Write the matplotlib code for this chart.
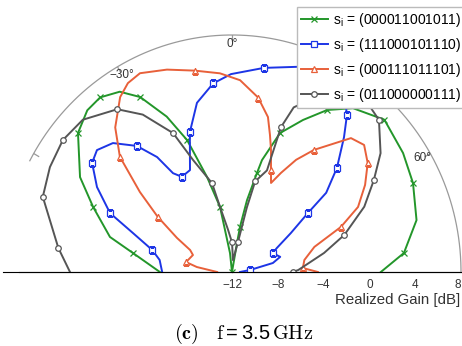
import numpy as np
import matplotlib.pyplot as plt
from matplotlib.transforms import offset_copy

plt.rcParams['font.family'] = ['Liberation Sans', 'DejaVu Sans']
plt.rcParams['mathtext.fontset'] = 'custom'
plt.rcParams['mathtext.rm'] = 'Liberation Sans'
plt.rcParams['mathtext.default'] = 'regular'
plt.rcParams['lines.solid_joinstyle'] = 'round'

# realized gain patterns at f = 3.5 GHz
# angle in degrees (0 = broadside, clockwise positive), gain in dB
ang_green = [-90, -79.5, -74.5, -65.7, -58.9, -48.9, -42.8, -38.0, -32.8, -28.5, -23.5, -19.4,
             -15.2, -10.8, -6.2, 2, 10.1, 10.4, 12.2, 14.6, 15.5, 19.7, 25.8, 31.3, 37.4, 46,
             56.1, 64.6, 74.8, 83.9, 90]
gain_green = [-5.7, -3.2, -0.94, 1.3, 3.5, 5.85, 6.6, 6.7, 6.1, 4.8, 2.3, -0.2,
              -3.7, -6.4, -10.4, -12, -9.5, -8.1, -5.8, -3.4, -2.2, 0.46, 2.25, 4.0, 5.4, 6.5,
              6.0, 5.5, 4.7, 3.1, 1.0]

ang_blue = [-90, -80.9, -75.1, -69.2, -65.0, -58.7, -53.0, -48.9, -43.7, -38.0, -34.0, -31.7,
            -28.6, -23.1, -20.1, -17.3, -12.1, -5.9, -0.3, 9.2, 18.4, 24.3, 30.4, 35.6, 37.2,
            40.7, 46.2, 50.9, 53.1, 57.4, 62.7, 65.9, 73.1, 78.0, 83.8, 90]
gain_blue = [-5.9, -5.6, -4.8, -2.75, -0.25, 1.8, 3.3, 3.65, 3.05, 1.5, -0.3, -2.2,
             -2.85, -2.65, -1.3, 0.37, 2.6, 4.0, 4.7, 5.45, 6.25, 6.7, 6.3, 5.1, 4.6,
             3.0, 0.7, -1.4, -3.7, -5.9, -7.6, -8.1, -7.6, -8.35, -10.4, -11.3]

ang_red = [-90, -82.2, -78.2, -67.2, -63.1, -59.1, -54.3, -50.0, -45.2, -39.9, -33.5, -29.7,
           -25.6, -18.4, -10.8, -3.6, 2.5, 8.8, 13.5, 16.0, 18.3, 21.6, 24.4, 27.1, 30.6, 34.8,
           42.6, 47.1, 52.2, 57.7, 63.5, 68.2, 73.6, 80.9, 86.9, 90]
gain_red = [-10.7, -8.9, -7.9, -8.3, -7.9, -6.4, -4.0, -1.5, 1.8, 3.9, 5.7, 6.35,
            6.6, 6.0, 5.3, 4.8, 4.2, 2.9, 1.45, 0.03, -1.15, -2.75, -3.75, -2.6, -1.0, 0.55,
            3.35, 3.75, 3.0, 1.75, 0.3, -1.75, -4.5, -5.6, -5.8, -4.5]

ang_gray = [-90, -82.4, -69.0, -60.9, -53.0, -45.4, -36.1, -30.4, -23.7, -19.8, -13.1, -10.8,
            -5.6, 0, 5, 11.7, 13.4, 14.8, 19.6, 19.3, 21.2, 29, 35, 41.3, 45.0, 52.3, 58.0,
            64.5, 72.3, 78.7, 88.3, 90]
gain_gray = [2.15, 3.3, 5.7, 6.2, 6.5, 6.3, 5.0, 3.4, 0.8, -1.95, -4.3, -6.4,
             -8.4, -9.5, -11, -9.4, -6.4, -4.1, -2.9, 0.96, 2.9, 5.5, 6.4, 6.4, 6.15, 4.4, 2.6,
             0.8, -1.7, -3.8, -6.2, -6.7]

codes = ['000011001011', '111000101110', '000111011101', '011000000111']
r_ticks = [-12, -8, -4, 0, 4, 8]
theta_labels = [-30, 0, 60]

fig = plt.figure(figsize=(4.62, 3.46), dpi=100)
# half disc: centre (232, 272) px, radius 229 px across, 237 px up (the scan is a bit stretched)
ax = fig.add_axes([3 / 462, -44.5 / 346, 458 / 462, 474 / 346], projection='polar')
ax.set_aspect('auto')
ax.set_theta_zero_location('N')
ax.set_theta_direction(-1)
ax.set_thetamin(-90)
ax.set_thetamax(90)
ax.set_rlim(-12, 8)
ax.grid(False)
ax.set_xticks([])
ax.set_yticks([])
for sp in ax.spines.values():
    sp.set_visible(False)

# outer arc, baseline and angle ticks
arc = np.deg2rad(np.linspace(-62, 90, 200))
ax.plot(arc, np.full_like(arc, 8), color='#9a9a9a', lw=0.9, clip_on=False)
ax.plot([np.pi / 2, np.pi / 2], [-12, 8], color='#9a9a9a', lw=0.9, clip_on=False)
ax.plot([-np.pi / 2, -np.pi / 2], [-12, 6.6], color='#9a9a9a', lw=0.9, clip_on=False)
for a in [-60, -30, 0, 30, 60]:
    ax.plot([np.deg2rad(a)] * 2, [7.5, 8], color='#9a9a9a', lw=0.9)

deg = np.deg2rad
l1, = ax.plot(deg(ang_green), gain_green, color='#23962a', lw=1.4, marker='x', ms=4.5,
              mew=0.9, markevery=(1, 2))
l2, = ax.plot(deg(ang_blue), gain_blue, color='#1d35e6', lw=1.4, marker='s', ms=4,
              mfc='white', mew=0.9, markevery=[2, 4, 6, 9, 12, 15, 17, 19, 24, 26, 28, 31, 34])
l3, = ax.plot(deg(ang_red), gain_red, color='#e8603a', lw=1.4, marker='^', ms=4.5,
              mfc='white', mew=0.9, markevery=[2, 6, 8, 14, 17, 21, 25, 28, 31, 34])
l4, = ax.plot(deg(ang_gray), gain_gray, color='#555555', lw=1.4, marker='o', ms=4,
              mfc='white', mew=0.9,
              markevery=[1, 2, 4, 6, 8, 10, 13, 15, 17, 19, 24, 26, 28, 31])

tr = offset_copy(ax.transData, fig=fig, x=0, y=-5, units='points')
for r in r_ticks:
    ax.text(np.pi / 2, r, str(r).replace('-', '\u2212'), transform=tr,
            ha='right' if r == r_ticks[-1] else 'center', va='top',
            fontsize=8.5, color='#333333')
for a in theta_labels:
    ax.text(deg(a), 7.2, str(a).replace('-', '\u2212') + '\u00b0', ha='center', va='center',
            fontsize=8.5, color='#333333')

fig.text(335 / 462, 46 / 346, 'Realized Gain [dB]', ha='left', va='center', fontsize=10.8,
         color='#333333')

leg = ax.legend([l1, l2, l3, l4], ['$s_i$ = (%s)' % c for c in codes], loc='upper left',
                bbox_to_anchor=(297 / 462, 1 - 7 / 346), bbox_transform=fig.transFigure,
                fancybox=False, edgecolor='#bbbbbb', framealpha=1, fontsize=10,
                handlelength=1.9, borderpad=0.3, labelspacing=0.5, handletextpad=0.4,
                borderaxespad=0)
leg.set_zorder(10)

fig.text(0.527, 12 / 346, r'$\mathbf{(c)}\quad\mathrm{f} = 3.5\,\mathrm{GHz}$',
         math_fontfamily='cm', ha='center', va='center', fontsize=14.5)

fig.savefig('out.png', dpi=100)
